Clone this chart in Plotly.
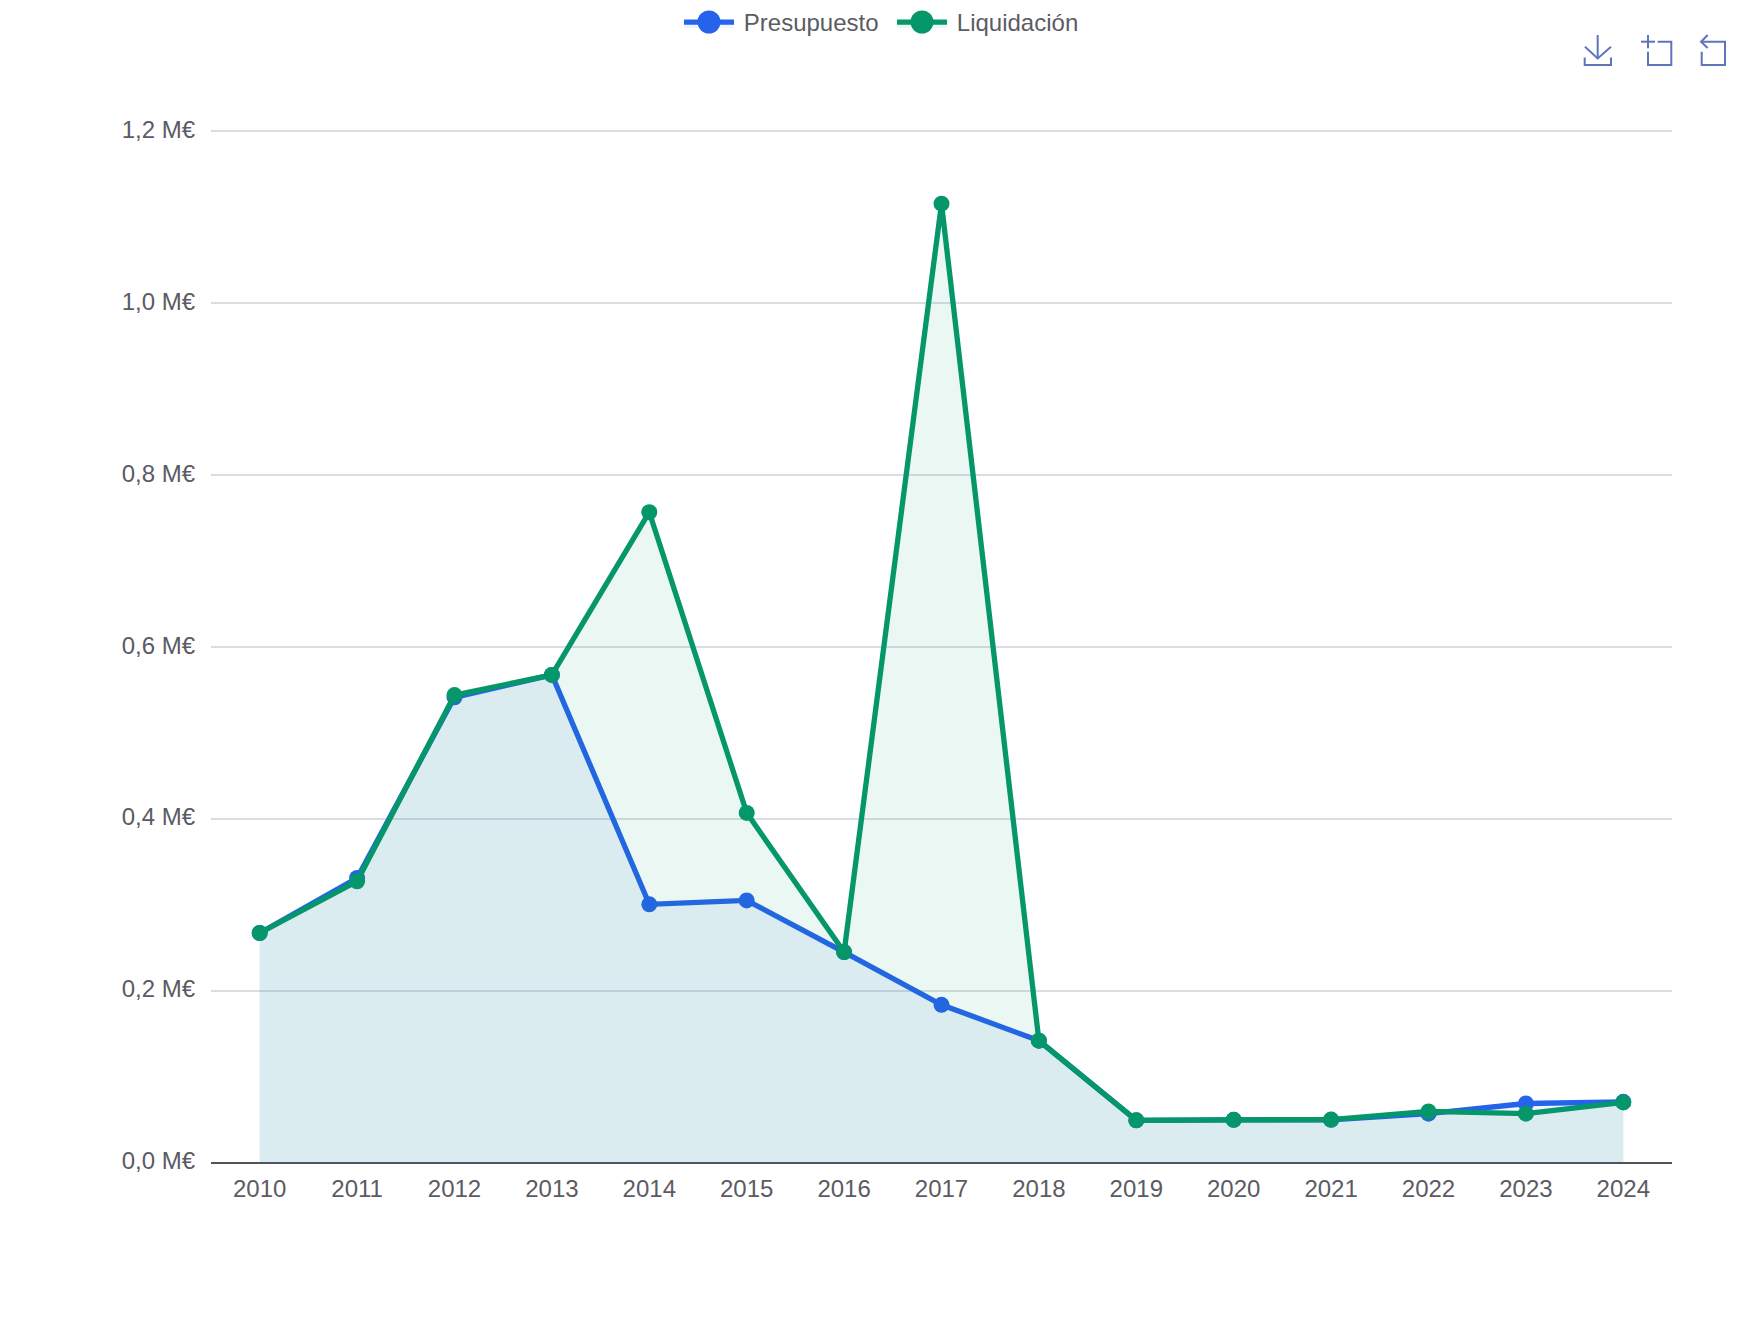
import plotly.graph_objects as go

years = [str(y) for y in range(2010, 2025)]
presupuesto = [0.2675, 0.3315, 0.5416, 0.5677, 0.3008, 0.3054, 0.2453, 0.1840,
               0.1423, 0.0496, 0.0502, 0.0502, 0.0574, 0.0692, 0.0711]
liquidacion = [0.2675, 0.3276, 0.5442, 0.5677, 0.7569, 0.4072, 0.2453, 1.1158,
               0.1423, 0.0496, 0.0502, 0.0505, 0.0600, 0.0574, 0.0705]
y_ticks = [0.0, 0.2, 0.4, 0.6, 0.8, 1.0, 1.2]
y_labels = ["0,0 M€", "0,2 M€", "0,4 M€", "0,6 M€", "0,8 M€", "1,0 M€", "1,2 M€"]

BLUE = "#2563eb"
GREEN = "#059669"
TEXT = "#5b5b64"
AXIS = "#52525b"
TOOL = "#5f75bb"
W, H = 1760, 1320
L, R, T, B = 211, 88, 129, 155
PX_PER_UNIT = 859.8
PLOT_H = H - T - B

fig = go.Figure()
for name, values, color, fill in [
    ("\u2009Presupuesto", presupuesto, BLUE, "rgba(37,99,235,0.08)"),
    ("\u2009Liquidación", liquidacion, GREEN, "rgba(5,150,105,0.08)"),
]:
    fig.add_trace(go.Scatter(
        x=years, y=values, name=name, mode="lines+markers",
        line=dict(color=color, width=5.3),
        marker=dict(color=color, size=16),
        fill="tozeroy", fillcolor=fill,
        hoverinfo="x+y+name",
    ))


def px(x):
    return (x - L) / (W - L - R)


def py(y):
    return (H - B - y) / PLOT_H


def path(points):
    """Polyline in page pixels, expressed in paper coordinates."""
    return "M" + " L".join(f"{px(x):.5f},{py(y):.5f}" for x, y in points)


# Toolbox glyphs in the top right corner
tool_paths = [
    [(1597.7, 35), (1597.7, 59)],
    [(1585, 46.7), (1597.7, 58.5), (1611, 46.7)],
    [(1584.7, 57.5), (1584.7, 65), (1611, 65), (1611, 57.5)],
    [(1641, 41.7), (1655, 41.7)],
    [(1648, 35), (1648, 48.3)],
    [(1657.7, 41.7), (1671.3, 41.7), (1671.3, 65), (1648, 65), (1648, 51.7)],
    [(1707.7, 35), (1701, 41.7), (1707.7, 48)],
    [(1701, 41.7), (1725, 41.7), (1725, 65), (1701.7, 65), (1701.7, 51.7)],
]
shapes = [
    dict(type="path", xref="paper", yref="paper", path=path(p),
         line=dict(color=TOOL, width=2))
    for p in tool_paths
]

# Enlarged discs behind the legend symbols
for cx, color in [(709, BLUE), (922, GREEN)]:
    shapes.append(dict(
        type="circle", xref="paper", yref="paper",
        x0=px(cx - 11.5), x1=px(cx + 11.5), y0=py(33.5), y1=py(10.5),
        fillcolor=color, line=dict(width=0),
    ))

fig.update_layout(
    width=W, height=H,
    margin=dict(l=L, r=R, t=T, b=B, pad=0),
    paper_bgcolor="white", plot_bgcolor="white",
    font=dict(family="Liberation Sans", size=24, color=TEXT),
    shapes=shapes,
    showlegend=True,
    legend=dict(
        orientation="h", x=679 / W, xref="container", xanchor="left",
        y=1, yref="container", yanchor="top",
        itemwidth=50, itemsizing="trace", bgcolor="rgba(0,0,0,0)",
        entrywidth=148, entrywidthmode="pixels",
        font=dict(size=24, color=TEXT),
    ),
    xaxis=dict(
        type="category", range=[-0.5, 14.5], showgrid=False,
        showline=False, ticks="",
        ticklabelstandoff=7, tickfont=dict(size=24, color=TEXT),
    ),
    yaxis=dict(
        range=[-2 / PX_PER_UNIT, (PLOT_H - 2) / PX_PER_UNIT],
        tickvals=y_ticks, ticktext=y_labels,
        showgrid=True, gridcolor="#d9dee5", gridwidth=2,
        zeroline=True, zerolinecolor=AXIS, zerolinewidth=2,
        showline=False, ticks="", ticklabelstandoff=15, ticklabelshift=-2,
        tickfont=dict(size=24, color=TEXT),
    ),
)

fig.write_html("out.html", config=dict(displayModeBar=False))
